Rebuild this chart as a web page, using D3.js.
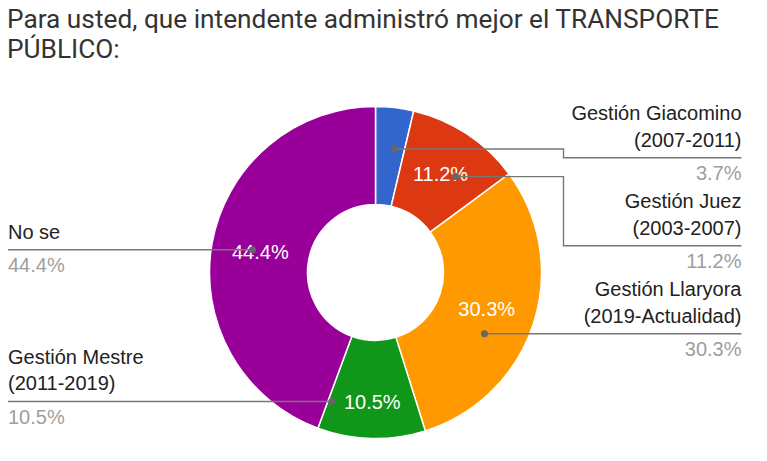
<!DOCTYPE html>
<html><head><meta charset="utf-8">
<script src="https://cdn.jsdelivr.net/npm/d3@7"></script>
<style>html,body{margin:0;padding:0;background:#fff;} svg{display:block}</style>
</head><body>
<svg id="chart" width="767" height="461"></svg>
<script>
// ---- data ----
const titleLines = ["Para usted, que intendente administró mejor el TRANSPORTE", "PÚBLICO:"];
const categories = ["Gestión Giacomino (2007-2011)", "Gestión Juez (2003-2007)", "Gestión Llaryora (2019-Actualidad)", "Gestión Mestre (2011-2019)", "No se"];
const values = [3.7, 11.2, 30.3, 10.5, 44.4];
const colors = ["#3366cc", "#dc3912", "#ff9900", "#109618", "#990099"];

// ---- layout ----
const W = 767, H = 461;
const cx = 375.5, cy = 272.5, rOuter = 166, rInner = 68;
const labelFont = "'Liberation Sans', Arial, sans-serif";
const labelSize = 20;
const svg = d3.select("#chart");
svg.append("rect").attr("width", W).attr("height", H).attr("fill", "#fff");

// title
const titleTargetWidth = 712;
const tt = svg.append("text").attr("font-family", "Roboto, sans-serif").attr("font-size", 24).attr("fill", "#333");
titleLines.forEach((line, i) => tt.append("tspan").attr("x", 7).attr("y", 28.3 + i * 30).text(line));
const firstW = tt.select("tspan").node().getComputedTextLength();
tt.attr("font-size", 24 * titleTargetWidth / firstW);

const pie = d3.pie().sort(null).value(d => d);
const arcs = pie(values);
const arc = d3.arc().innerRadius(rInner).outerRadius(rOuter);
const g = svg.append("g").attr("transform", `translate(${cx},${cy})`);

g.selectAll("path.slice").data(arcs).join("path")
  .attr("class", "slice")
  .attr("d", arc)
  .attr("fill", (d, i) => colors[i])
  .attr("stroke", "#fff").attr("stroke-width", 1.5);

function angOf(x, y) { let a = Math.atan2(x, -y); if (a < 0) a += 2 * Math.PI; return a; }
function inSlice(x, y, d, mAng, rpad) {
  const r = Math.hypot(x, y), a = angOf(x, y);
  return r >= rInner + rpad && r <= rOuter - rpad && a >= d.startAngle + mAng && a <= d.endAngle - mAng;
}
const fmt = v => v.toFixed(1) + "%";

// inner labels with fit check (hidden when the text does not fit in the slice)
const measure = svg.append("text").attr("font-family", labelFont).attr("font-size", labelSize);
arcs.forEach((d, i) => {
  measure.text(fmt(values[i]));
  const tw = measure.node().getComputedTextLength();
  const th = 14.3, pad = 10;
  const mid = (d.startAngle + d.endAngle) / 2;
  let pos = null;
  for (let r = (rInner + rOuter) / 2; r <= rOuter; r += 0.5) {
    const x = r * Math.sin(mid), y = -r * Math.cos(mid);
    const hw = tw / 2 + pad, hh = th / 2 + pad;
    const ok = [[x - hw, y - hh], [x + hw, y - hh], [x - hw, y + hh], [x + hw, y + hh]].every(p => inSlice(p[0], p[1], d, 0, 0));
    if (ok) { pos = [x, y]; break; }
  }
  d.labelPos = pos;
});
measure.remove();
g.selectAll("text.inner").data(arcs.filter(d => d.labelPos)).join("text")
  .attr("class", "inner")
  .attr("x", d => d.labelPos[0]).attr("y", d => d.labelPos[1]).attr("dy", "0.35em")
  .attr("text-anchor", "middle")
  .attr("font-family", labelFont).attr("font-size", labelSize).attr("fill", "#fff")
  .text(d => fmt(d.data));

// outer labelled legend
const rDot = 125, rIdeal = 129, elbowGap = 22, lineH = 26.5, baseToLine = 11, pctBelow = 22.5, capH = 14.3, minGap = 13.7, topBound = 106;
const rightX = 741.5, leftX = 8;
function splitLabel(s) { const k = s.indexOf(" ("); return k < 0 ? [s] : [s.slice(0, k), s.slice(k + 1)]; }
const labels = arcs.map((d, i) => {
  const mid = (d.startAngle + d.endAngle) / 2;
  return { d, i, mid, side: Math.sin(mid) >= 0 ? 1 : -1, lines: splitLabel(categories[i]), ideal: cy - rIdeal * Math.cos(mid) };
});
[1, -1].forEach(side => {
  const grp = labels.filter(l => l.side === side).sort((a, b) => a.ideal - b.ideal);
  let prevBottom = -Infinity;
  grp.forEach(l => {
    const above = baseToLine + (l.lines.length - 1) * lineH + capH;
    l.uy = Math.max(l.ideal, topBound + above, prevBottom + minGap + above);
    prevBottom = l.uy + pctBelow;
  });
});
const mAng = 1.5 * Math.PI / 180;
labels.forEach(l => {
  const dy = l.uy - cy;
  if (Math.abs(dy) < rDot) {
    const dx = l.side * Math.sqrt(rDot * rDot - dy * dy);
    if (inSlice(dx, dy, l.d, mAng, 0)) { l.dot = [dx, dy]; l.elbow = false; return; }
    const w = l.d.endAngle - l.d.startAngle;
    const target = angOf(dx, dy);
    const a = Math.max(l.mid - 0.16 * w, Math.min(l.mid + 0.16 * w, target));
    l.dot = [rDot * Math.sin(a), -rDot * Math.cos(a)]; l.elbow = true; return;
  }
  for (let k = 0; k <= 2 * rOuter; k += 0.5) {
    const x = l.side * (rOuter - k);
    if (inSlice(x, dy, l.d, mAng, 4)) { l.dot = [x, dy]; l.elbow = false; return; }
  }
  l.dot = [rDot * Math.sin(l.mid), -rDot * Math.cos(l.mid)]; l.elbow = true;
});

const lg = svg.append("g");
labels.forEach(l => {
  const dx = cx + l.dot[0], dyy = cy + l.dot[1];
  const endX = l.side > 0 ? rightX : leftX;
  const elbowX = cx + l.side * (rOuter + elbowGap);
  const p = d3.path();
  if (l.elbow) { p.moveTo(dx, dyy); p.lineTo(elbowX, dyy); p.lineTo(elbowX, l.uy); p.lineTo(endX, l.uy); }
  else { p.moveTo(dx, l.uy); p.lineTo(endX, l.uy); }
  lg.append("path").attr("d", p.toString()).attr("fill", "none").attr("stroke", "#777").attr("stroke-width", 1.4);
  lg.append("circle").attr("cx", dx).attr("cy", l.elbow ? dyy : l.uy).attr("r", 3.5).attr("fill", "#666");
  const anchor = l.side > 0 ? "end" : "start";
  const n = l.lines.length;
  l.lines.forEach((s, j) => {
    lg.append("text").attr("x", endX).attr("y", l.uy - baseToLine - (n - 1 - j) * lineH)
      .attr("text-anchor", anchor).attr("font-family", labelFont).attr("font-size", labelSize)
      .attr("fill", "#222").text(s);
  });
  lg.append("text").attr("x", endX).attr("y", l.uy + pctBelow)
    .attr("text-anchor", anchor).attr("font-family", labelFont).attr("font-size", labelSize)
    .attr("fill", "#9e9e9e").text(fmt(values[l.i]));
});
</script>
</body></html>
